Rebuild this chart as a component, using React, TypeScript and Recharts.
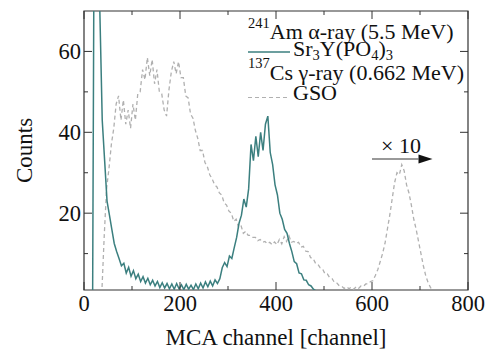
import { Legend, Line, LineChart, ReferenceArea, ReferenceLine, XAxis, YAxis } from "recharts";

//
// data (counts, fixed channel step)
//
const CHANNEL_STEP = 5;

const SR_START = 18;
const SR_COUNTS = [
  0, 150, 150, 70, 43, 33, 23, 19.5, 16, 12.5,
  10.5, 8.8, 7, 7.6, 5.2, 6.6, 4.4, 5.8, 3.8, 4.9,
  3.1, 4.3, 2.7, 3.9, 2.3, 3.4, 2, 3.1, 1.6, 2.8,
  1.5, 2.6, 1.3, 2.5, 1.2, 2.6, 1.3, 2.3, 1.1, 2.4,
  1.2, 2.2, 1.1, 2.5, 1.3, 2.7, 1.5, 3, 1.8, 3.2,
  2, 3.5, 2.6, 3.8, 6.5, 7.8, 6.8, 9.4, 8.8, 11.5,
  14, 17.5, 19.5, 23.5, 21.5, 26, 37, 33, 39, 34,
  40, 35.5, 42, 44, 35, 32, 27, 24.5, 20, 18.5,
  16, 15, 12.5, 10.5, 8, 7.5, 5.2, 5, 3.5, 3.4,
  2.3, 2, 1.2, 0.8,
];

const GSO_START = 37;
const GSO_COUNTS = [
  0, 14, 26, 31, 37, 41, 47, 49, 43, 48,
  42, 45.5, 41, 47, 43, 49.5, 50, 55.5, 53, 58.5,
  54, 58, 52, 55.5, 50, 49.5, 45.5, 44, 50.5, 55,
  57.5, 54.5, 57.5, 53.5, 53.5, 49, 48.5, 44.5, 43.5, 40.5,
  38.5, 35.5, 35.5, 32.5, 31.5, 29.5, 28.5, 27, 26.5, 25,
  24.5, 22.5, 22, 20.5, 20, 18, 18.5, 16.5, 17, 15,
  15.5, 14.5, 14.5, 14, 14, 13.2, 13.5, 12.8, 13, 12.4,
  12.8, 12.2, 12.9, 12.2, 13.5, 12.4, 14.2, 13, 14.4, 12.8,
  13, 12.5, 12.8, 11.6, 11.8, 10.6, 10.5, 9, 8.9, 7.7,
  7.4, 6.5, 6.2, 5, 5, 4, 3.8, 2.8, 2.7, 2,
  1.9, 1.4, 1.8, 1.3, 1.7, 1.2, 1.8, 1.4, 2, 1.9,
  2.5, 2.5, 3.1, 3.3, 4.6, 6, 8, 10, 12.5, 16,
  19.5, 23.5, 27.5, 30, 29.5, 32, 30.5, 27, 25, 22,
  18.5, 16, 13, 10, 7, 4.5, 2.8, 1.6, 0.8, 0.3,
];

const X_TICKS = [0, 100, 200, 300, 400, 500, 600, 700, 800];
const Y_TICKS = [10, 20, 30, 40, 50, 60];

// "x10" marker over the GSO photopeak
const SCALE_NOTE = "\u00d7 10";
const SCALE_ARROW = [
  { x: 600, y: 33.4 },
  { x: 726, y: 33.4 },
];

const srData = SR_COUNTS.map((v, i) => ({ ch: SR_START + i * CHANNEL_STEP, sr: v }));
const gsoData = GSO_COUNTS.map((v, i) => ({ ch: GSO_START + i * CHANNEL_STEP, gso: v }));

//
// style
//
const FONT = "'Liberation Serif', 'Times New Roman', serif";
const AXIS = "#333333";
const INK = "#111111";
const TEAL = "#3b7f7f";
const GRAY = "#b0b0b0";

const W = 485;
const H = 352;
const PLOT_TOP = 11;
const PLOT_RIGHT = 468;
const MAJOR = 8;
const MINOR = 4;

const textStyle = (size: number) => ({ fontFamily: FONT, fontSize: size, fill: INK });

function XTick({ x, y, payload }: any) {
  const major = payload.value % 200 === 0;
  const len = major ? MAJOR : MINOR;
  return (
    <g>
      <line x1={x} y1={y} x2={x} y2={y - len} stroke={AXIS} />
      <line x1={x} y1={PLOT_TOP} x2={x} y2={PLOT_TOP + len} stroke={AXIS} />
      {major && (
        <text x={x} y={y + 21} textAnchor="middle" style={textStyle(22.5)}>
          {payload.value}
        </text>
      )}
    </g>
  );
}

function YTick({ x, y, payload }: any) {
  const major = payload.value % 20 === 0;
  const len = major ? MAJOR : MINOR;
  return (
    <g>
      <line x1={x} y1={y} x2={x + len} y2={y} stroke={AXIS} />
      <line x1={PLOT_RIGHT} y1={y} x2={PLOT_RIGHT - len} y2={y} stroke={AXIS} />
      {major && (
        <text x={x - 3} y={y + 7.5} textAnchor="end" style={textStyle(22.5)}>
          {payload.value}
        </text>
      )}
    </g>
  );
}

function CountsTitle({ viewBox }: any) {
  const cy = viewBox ? viewBox.y + viewBox.height / 2 : 150;
  return (
    <text x={32} y={cy} transform={`rotate(-90 32 ${cy})`} textAnchor="middle" style={textStyle(23)}>
      Counts
    </text>
  );
}

function ChannelTitle({ viewBox }: any) {
  const cx = viewBox ? viewBox.x + viewBox.width / 2 : 276;
  return (
    <text x={cx} y={345} textAnchor="middle" style={textStyle(23)}>
      MCA channel [channel]
    </text>
  );
}

function ScaleArrow({ x1, y1, x2, y2 }: any) {
  return (
    <g>
      <line x1={x1} y1={y1} x2={x2 - 14} y2={y2} stroke="#999999" strokeWidth={2} />
      <polygon points={`${x2 - 14},${y2 - 4.5} ${x2},${y2} ${x2 - 14},${y2 + 4.5}`} fill={INK} />
      <text x={x1 + 9} y={y1 - 6} style={textStyle(22)}>
        {SCALE_NOTE}
      </text>
    </g>
  );
}

function SpectrumLegend({ payload }: any) {
  const items = payload ?? [];
  const sr = items.find((p: any) => p.dataKey === "sr");
  const gso = items.find((p: any) => p.dataKey === "gso");
  return (
    <svg width={245} height={106} style={{ overflow: "visible" }}>
      <text x={8} y={39} style={textStyle(22)}>
        <tspan fontSize={14.5} dy={-11}>241</tspan>
        <tspan dy={11}>Am α-ray (5.5 MeV)</tspan>
      </text>

      <line x1={8} y1={52} x2={50} y2={52} stroke={sr?.color ?? TEAL} strokeWidth={1.5} />
      <text x={53} y={56} style={textStyle(22)}>
        Sr<tspan fontSize={14.5} dy={4}>3</tspan>
        <tspan dy={-4}>Y(PO</tspan>
        <tspan fontSize={14.5} dy={4}>4</tspan>
        <tspan dy={-4}>)</tspan>
        <tspan fontSize={14.5} dy={4}>3</tspan>
      </text>

      <text x={8} y={80} style={textStyle(22)}>
        <tspan fontSize={14.5} dy={-12}>137</tspan>
        <tspan dy={12}>Cs γ-ray (0.662 MeV)</tspan>
      </text>

      <line
        x1={8}
        y1={97.5}
        x2={50}
        y2={97.5}
        stroke={gso?.color ?? GRAY}
        strokeWidth={1.2}
        strokeDasharray="4 3"
      />
      <text x={53} y={100} style={textStyle(22)}>
        GSO
      </text>
    </svg>
  );
}

export default function App() {
  return (
    <div style={{ position: "absolute", left: 0, top: 0, background: "#fff", fontFamily: FONT }}>
      <LineChart width={W} height={H} margin={{ top: PLOT_TOP, right: W - PLOT_RIGHT, bottom: 0, left: 0 }}>
        <XAxis
          type="number"
          dataKey="ch"
          domain={[0, 800]}
          ticks={X_TICKS}
          interval={0}
          height={62}
          tickSize={0}
          tickMargin={0}
          tickLine={false}
          axisLine={false}
          tick={<XTick />}
          label={<ChannelTitle />}
        />

        <YAxis
          type="number"
          domain={[1, 70]}
          allowDataOverflow
          ticks={Y_TICKS}
          interval={0}
          width={84}
          tickSize={0}
          tickMargin={0}
          tickLine={false}
          axisLine={false}
          tick={<YTick />}
          label={<CountsTitle />}
        />

        <ReferenceArea x1={0} x2={800} y1={1} y2={70} fill="none" stroke={AXIS} strokeWidth={1.2} />

        <Line
          data={gsoData}
          dataKey="gso"
          stroke={GRAY}
          strokeWidth={1.3}
          strokeDasharray="4 3"
          dot={false}
          isAnimationActive={false}
        />

        <Line
          data={srData}
          dataKey="sr"
          stroke={TEAL}
          strokeWidth={1.5}
          dot={false}
          isAnimationActive={false}
        />

        <ReferenceLine segment={SCALE_ARROW} shape={<ScaleArrow />} />

        <Legend
          layout="vertical"
          align="center"
          verticalAlign="middle"
          content={<SpectrumLegend />}
          wrapperStyle={{ left: 240, top: 0, width: 245, height: 106 }}
        />
      </LineChart>
    </div>
  );
}
